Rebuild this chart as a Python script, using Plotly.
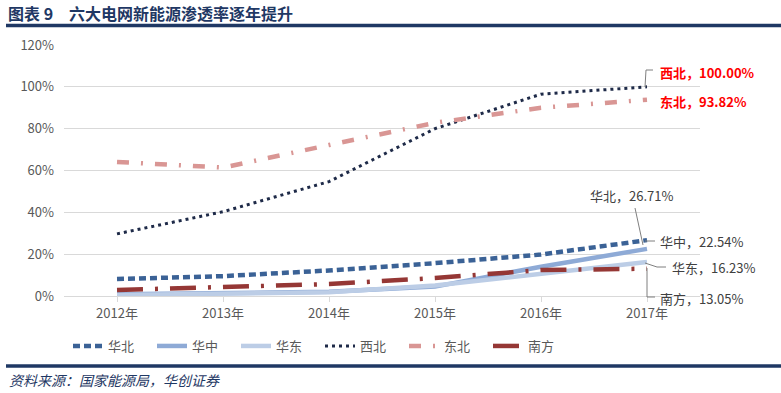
import plotly.graph_objects as go

years = ["2012年", "2013年", "2014年", "2015年", "2016年", "2017年"]
huabei = [0.081, 0.095, 0.122, 0.157, 0.198, 0.2671]
huazhong = [0.008, 0.012, 0.02, 0.045, 0.14, 0.2254]
huadong = [0.005, 0.009, 0.018, 0.05, 0.105, 0.1623]
xibei = [0.297, 0.403, 0.547, 0.80, 0.965, 1.0]
dongbei = [0.641, 0.614, 0.722, 0.828, 0.90, 0.9382]
nanfang = [0.029, 0.045, 0.057, 0.086, 0.124, 0.1305]

series = [
    ("华北", huabei, "#3b6296", 4.5, "7px,4px"),
    ("华中", huazhong, "#8eaad6", 4.5, "solid"),
    ("华东", huadong, "#bccde6", 4.5, "solid"),
    ("西北", xibei, "#1e2a48", 3, "3px,4px"),
    ("东北", dongbei, "#d99694", 4.5, "12px,12px,2px,12px"),
    ("南方", nanfang, "#953735", 4.5, "26px,12px,3px,12px"),
]

end_labels = [
    ("西北，100.00%", 658, 72, "#ff0000", True),
    ("东北，93.82%", 658, 101, "#ff0000", True),
    ("华北，26.71%", 588, 195, "#404040", False),
    ("华中，22.54%", 658, 241, "#404040", False),
    ("华东，16.23%", 670, 267, "#404040", False),
    ("南方，13.05%", 658, 298, "#404040", False),
]

W, H = 781, 393
L, R, T, B = 64, 700, 45, 296
CJK = "Noto Sans CJK SC"


def px(x):
    return (x - L) / (R - L)


def py(y):
    return (B - y) / (B - T)


fig = go.Figure()
for name, vals, color, width, dash in series:
    fig.add_trace(go.Scatter(
        x=years, y=vals, name=name, mode="lines",
        line=dict(color=color, width=width, dash=dash),
    ))

annotations = []
for text, x, y, color, bold in end_labels:
    annotations.append(dict(
        x=px(x), y=py(y), xref="paper", yref="paper", xanchor="left", yanchor="middle",
        text=f"<b>{text}</b>" if bold else text, showarrow=False,
        font=dict(family=CJK, size=13, color=color),
    ))

annotations.append(dict(
    x=px(7), y=py(13), xref="paper", yref="paper", xanchor="left", yanchor="middle",
    text="<b>图表 9　六大电网新能源渗透率逐年提升</b>", showarrow=False, borderpad=0,
    font=dict(family=CJK, size=16, color="#1f3864"),
))
annotations.append(dict(
    x=px(7), y=py(380), xref="paper", yref="paper", xanchor="left", yanchor="middle",
    text="<i>资料来源：国家能源局，华创证券</i>", showarrow=False,
    font=dict(family=CJK, size=14, color="#1f3864"),
))

leaders = [
    [(645, 87), (646, 70), (653, 70)],
    [(635, 208), (643, 245)],
    [(645, 241), (655, 241)],
    [(645, 263), (657, 267), (666, 267)],
    [(647, 268), (647, 297), (655, 297)],
]
shapes = []
for pts in leaders:
    for (x0, y0), (x1, y1) in zip(pts[:-1], pts[1:]):
        shapes.append(dict(type="line", xref="paper", yref="paper",
                           x0=px(x0), y0=py(y0), x1=px(x1), y1=py(y1),
                           line=dict(color="#7f7f7f", width=1)))

for yline in (25.5, 366):
    shapes.append(dict(type="line", xref="paper", yref="paper",
                       x0=px(6), x1=px(781), y0=py(yline), y1=py(yline),
                       line=dict(color="#1f3864", width=3.5)))

fig.update_layout(
    width=W, height=H,
    margin=dict(l=L, r=W - R, t=T, b=H - B, autoexpand=False),
    paper_bgcolor="white", plot_bgcolor="white",
    font=dict(family=CJK, size=13, color="#595959"),
    xaxis=dict(type="category", range=[-0.5, 5.5], showgrid=False, automargin=False,
               showline=False, ticks="outside", ticklen=5, tickcolor="#d9d9d9",
               tickfont=dict(size=13, color="#595959")),
    yaxis=dict(range=[0, 1.2], dtick=0.2, tickformat=".0%", showgrid=True, automargin=False,
               gridcolor="#d9d9d9", gridwidth=1, zeroline=True, zerolinecolor="#d9d9d9",
               zerolinewidth=1, ticks="", ticklabelstandoff=9,
               tickfont=dict(size=13, color="#595959")),
    legend=dict(orientation="h", xref="container", yref="container",
                x=68 / W, y=1 - 346 / H, xanchor="left", yanchor="middle",
                entrywidth=39, entrywidthmode="pixels",
                font=dict(size=13, color="#595959"), bgcolor="rgba(0,0,0,0)"),
    annotations=annotations,
    shapes=shapes,
)

fig.write_html("out.html", config={"displayModeBar": False},
               post_script="document.body.style.margin='0';")
